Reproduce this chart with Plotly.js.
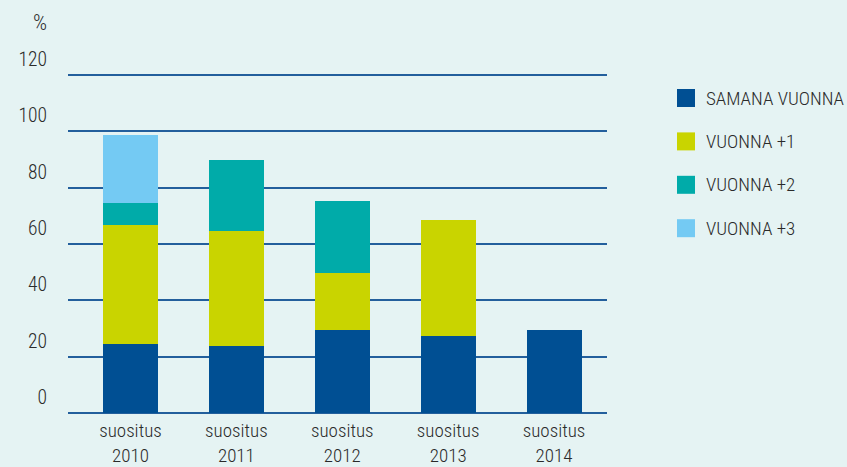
<!DOCTYPE html>
<html>
<head>
<meta charset="utf-8">
<script src="https://cdn.plot.ly/plotly-3.0.1.min.js"></script>
<style>
html,body{margin:0;padding:0;background:#e5f3f3;}
#chart{width:847px;height:467px;}
</style>
</head>
<body>
<div id="chart"></div>
<script>
// Data
const categories = ["suositus 2010", "suositus 2011", "suositus 2012", "suositus 2013", "suositus 2014"];
const tickLabels = ["suositus<br>2010", "suositus<br>2011", "suositus<br>2012", "suositus<br>2013", "suositus<br>2014"];
const seriesNames = ["SAMANA VUONNA", "VUONNA +1", "VUONNA +2", "VUONNA +3"];
const samanaVuonna = [24.4, 23.7, 29.4, 27.2, 29.4];
const vuonna1 = [42.2, 40.8, 20.2, 41.5, null];
const vuonna2 = [8.0, 25.5, 25.6, null, null];
const vuonna3 = [24.3, null, null, null, null];
const yTicks = [0, 20, 40, 60, 80, 100, 120];
const colors = ["#004f93", "#c9d400", "#00aba9", "#74caf3"];

const FONT = "'Liberation Sans Narrow', 'Arial Narrow', 'Roboto Condensed', Roboto, sans-serif";
const TXT = "#2a2a2a";
const WEIGHT = 300;

const seriesValues = [samanaVuonna, vuonna1, vuonna2, vuonna3];
const traces = seriesValues.map((vals, i) => ({
  type: "bar",
  name: seriesNames[i],
  x: categories,
  y: vals,
  marker: {color: colors[i], line: {width: 0}},
  width: 0.52,
  showlegend: false,
  hoverinfo: "name+y"
}));

// plot area geometry (pixels)
const W = 847, H = 467;
const L = 68, R = 240, T = 74, B = 54;
const pw = W - L - R, ph = H - T - B;
const px2x = p => (p - L) / pw;
const py2y = p => (H - B - p) / ph;

const shapes = [];
const annotations = [];
seriesNames.forEach((name, i) => {
  const cy = 98 + 43.4 * i;
  shapes.push({
    type: "rect", xref: "paper", yref: "paper",
    x0: px2x(677), x1: px2x(695), y0: py2y(cy + 9), y1: py2y(cy - 9),
    fillcolor: colors[i], line: {width: 0}
  });
  annotations.push({
    xref: "paper", yref: "paper", x: px2x(704), y: py2y(cy),
    xanchor: "left", yanchor: "middle", showarrow: false,
    text: name, font: {family: FONT, size: 19, color: TXT, weight: WEIGHT}
  });
});
annotations.push({
  xref: "paper", yref: "paper", x: px2x(40), y: py2y(22),
  xanchor: "center", yanchor: "middle", showarrow: false,
  text: "%", font: {family: FONT, size: 22, color: TXT, weight: WEIGHT}
});

const layout = {
  width: W, height: H,
  paper_bgcolor: "#e5f3f3", plot_bgcolor: "#e5f3f3",
  margin: {l: L, r: R, t: T, b: B, pad: 0},
  barmode: "stack",
  showlegend: false,
  font: {family: FONT, size: 19, color: TXT, weight: WEIGHT},
  xaxis: {
    type: "category",
    tickvals: categories, ticktext: tickLabels,
    range: [-0.59, 4.5],
    showgrid: false, zeroline: false, showline: false,
    ticks: "", ticklabelstandoff: 4,
    tickfont: {family: FONT, size: 19, color: TXT, weight: WEIGHT}
  },
  yaxis: {
    range: [0, 120.4],
    tickvals: yTicks,
    showgrid: true, gridcolor: "#235f9c", gridwidth: 2,
    zeroline: true, zerolinecolor: "#235f9c", zerolinewidth: 2,
    showline: false, ticks: "",
    ticklabelshift: -16, ticklabelstandoff: 20,
    tickfont: {family: FONT, size: 19.5, color: TXT, weight: WEIGHT}
  },
  shapes: shapes,
  annotations: annotations
};

Plotly.newPlot("chart", traces, layout, {displayModeBar: false, staticPlot: true});
</script>
</body>
</html>
